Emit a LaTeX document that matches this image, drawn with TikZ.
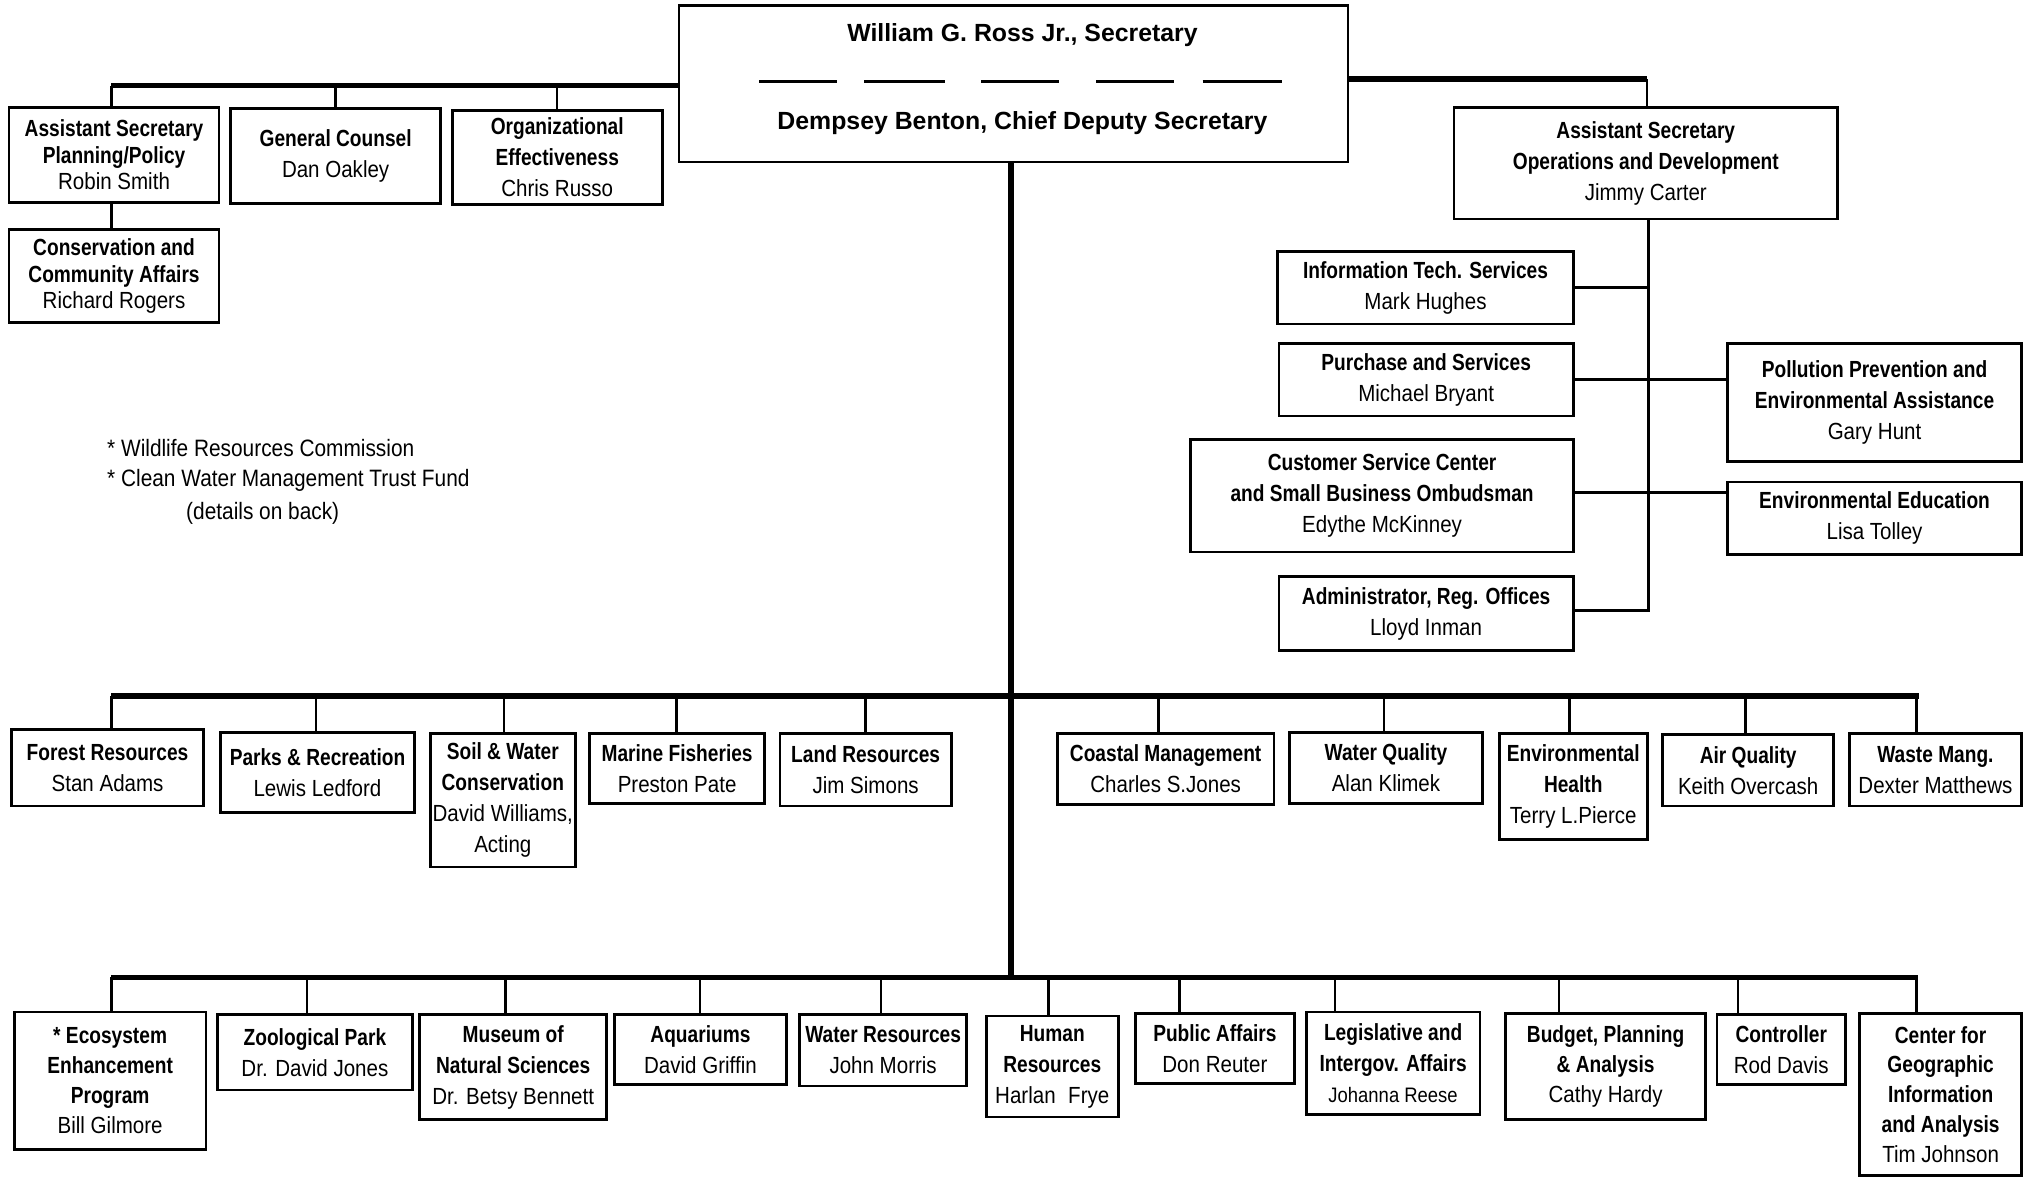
\documentclass[tikz,border=0pt]{standalone}
\usepackage{fontspec}
\setmainfont{Liberation Sans}
\newfontfamily\rg{Liberation Sans}[FakeStretch=0.88]
\newfontfamily\hd{Liberation Sans}[FakeStretch=0.82]
\newfontfamily\ttl{Liberation Sans}
\newcommand\hb[1]{{\hd\bfseries #1}}
\newcommand\orgbx[7][]{%
  \pgfmathsetmacro\cxx{(#3+#5)/2}%
  \pgfmathsetmacro\cyy{(#4+#6)/2}%
  \pgfmathsetmacro\www{(#5-#3)/100}%
  \pgfmathsetmacro\hhh{(#6-#4)/100}%
  \node[ob,minimum width=\www cm,minimum height=\hhh cm,#1] (#2) at (\cxx,\cyy) {#7};}
\newcommand\dropto[3]{% node, x, bus y
  \coordinate (d-#1) at (#2,#3);
  \draw[conn] (d-#1) -- (d-#1 |- #1.north);}
\tikzset{
  ob/.style={draw, line width=0.6pt, fill=white, inner sep=0pt, align=center,
    font=\rg\fontsize{5.12}{6.8}\selectfont},
  tight/.style={font=\rg\fontsize{5.12}{5.85}\selectfont},
  conn/.style={line width=0.55pt},
  bus/.style={line width=1.15pt},
  trunk/.style={line width=1.25pt},
  note/.style={anchor=west, inner sep=0pt, font=\rg\fontsize{5.2}{6.5}\selectfont},
  title/.style={inner sep=0pt, font=\ttl\bfseries\fontsize{5.45}{6.5}\selectfont},
}
\begin{document}
\begin{tikzpicture}[x=0.01cm,y=-0.01cm]
\useasboundingbox (0,0) rectangle (1568,908);
\fill[white] (0,0) rectangle (1568,908);

% ---------- connectors (behind boxes) ----------
\coordinate (tlb) at (86,66);
\coordinate (trb) at (1271,61);
\coordinate (mbL) at (86,537);
\coordinate (mbR) at (1481,537);
\coordinate (bbL) at (86,754);
\coordinate (bbR) at (1480,754);

% ---------- top boxes ----------
\orgbx{sec}{524}{4}{1040}{125}{}
\node[title] (t1) at (789,27) {William G. Ross Jr., Secretary};
\node[title] (t2) at (789,95) {Dempsey Benton, Chief Deputy Secretary};
\foreach \a/\b in {586/646,667/729,757/817,846/906,928/989}
  \draw[line width=0.6pt] (\a,63) -- (\b,63);

\draw[bus] (tlb) -- (tlb -| sec.west);
\draw[bus] (sec.east |- trb) -- (trb);
\draw[trunk] (sec.south -| 780,0) -- (bbL -| 780,0);
\draw[bus] (mbL) -- (mbR);
\draw[bus] (bbL) -- (bbR);

\orgbx[tight]{plan}{7}{83}{169}{156}{\hb{Assistant Secretary}\\\hb{Planning/Policy}\\Robin Smith}
\orgbx[tight]{cons}{7}{177}{169}{249}{\hb{Conservation and}\\\hb{Community Affairs}\\Richard Rogers}
\orgbx{gc}{178}{84}{340}{157}{\hb{General Counsel}\\Dan Oakley}
\orgbx{oe}{349}{85}{511}{158}{\hb{Organizational}\\\hb{Effectiveness}\\Chris Russo}
\draw[conn] (tlb) -- (tlb |- plan.north);
\draw[conn] (gc.north |- tlb) -- (gc.north);
\draw[conn] (oe.north |- tlb) -- (oe.north);
\draw[conn] (plan.south -| tlb) -- (cons.north -| tlb);

\orgbx{ops}{1122}{83}{1418}{169}{\hb{Assistant Secretary}\\\hb{Operations and Development}\\Jimmy Carter}
\orgbx{its}{986}{194}{1214}{250}{\hb{Information Tech. Services}\\Mark Hughes}
\orgbx{pur}{987}{265}{1214}{321}{\hb{Purchase and Services}\\Michael Bryant}
\orgbx{pol}{1333}{265}{1560}{356}{\hb{Pollution Prevention and}\\\hb{Environmental Assistance}\\Gary Hunt}
\orgbx{csc}{919}{339}{1214}{426}{\hb{Customer Service Center}\\\hb{and Small Business Ombudsman}\\Edythe McKinney}
\orgbx{ee}{1333}{372}{1560}{428}{\hb{Environmental Education}\\Lisa Tolley}
\orgbx{adm}{987}{445}{1214}{502}{\hb{Administrator, Reg. Offices}\\Lloyd Inman}

\coordinate (ot) at (1272,471);
\draw[conn] (trb) -- (trb |- ops.north);
\draw[conn] (ops.south -| ot) -- (ot) -- (ot -| adm.east);
\draw[conn] (its.east) -- (its.east -| ot);
\draw[conn] (pur.east) -- (pur.east -| pol.west);
\draw[conn] (csc.east |- 0,380) -- (ee.west |- 0,380);

% ---------- footnote ----------
\node[note] (n1) at (82,346) {* Wildlife Resources Commission};
\node[note] (n2) at (82,371) {* Clean Water Management Trust Fund};
\node[note] (n3) at (143,396) {(details on back)};

% ---------- middle row ----------
\orgbx{forest}{9}{563}{157}{622}{\hb{Forest Resources}\\Stan Adams}
\orgbx{parks}{170}{565}{320}{627}{\hb{Parks \& Recreation}\\Lewis Ledford}
\orgbx{soil}{332}{566}{444}{669}{\hb{Soil \& Water}\\\hb{Conservation}\\David Williams,\\Acting}
\orgbx{marine}{455}{566}{590}{620}{\hb{Marine Fisheries}\\Preston Pate}
\orgbx{land}{602}{566}{734}{622}{\hb{Land Resources}\\Jim Simons}
\orgbx{coastal}{816}{566}{983}{621}{\hb{Coastal Management}\\Charles S.Jones}
\orgbx{wq}{995}{565}{1144}{620}{\hb{Water Quality}\\Alan Klimek}
\orgbx{eh}{1157}{566}{1271}{648}{\hb{Environmental}\\\hb{Health}\\Terry L.Pierce}
\orgbx{aq}{1283}{567}{1415}{622}{\hb{Air Quality}\\Keith Overcash}
\orgbx{waste}{1427}{566}{1560}{622}{\hb{Waste Mang.}\\Dexter Matthews}
\dropto{forest}{86}{537}
\dropto{parks}{244}{537}
\dropto{soil}{389}{537}
\dropto{marine}{522}{537}
\dropto{land}{668}{537}
\dropto{coastal}{894}{537}
\dropto{wq}{1068}{537}
\dropto{eh}{1211}{537}
\dropto{aq}{1347}{537}
\dropto{waste}{1479}{537}

% ---------- bottom row ----------
\orgbx[font=\rg\fontsize{5.12}{6.6}\selectfont]{eco}{11}{781}{159}{887}{\hb{* Ecosystem}\\\hb{Enhancement}\\\hb{Program}\\Bill Gilmore}
\orgbx{zoo}{168}{783}{318}{841}{\hb{Zoological Park}\\Dr. David Jones}
\orgbx{mus}{324}{783}{468}{864}{\hb{Museum of}\\\hb{Natural Sciences}\\Dr. Betsy Bennett}
\orgbx{aqua}{474}{783}{607}{837}{\hb{Aquariums}\\David Griffin}
\orgbx{wr}{617}{783}{746}{838}{\hb{Water Resources}\\John Morris}
\orgbx{hr}{761}{784}{863}{862}{\hb{Human}\\\hb{Resources}\\Harlan\hspace{1.5pt} Frye}
\orgbx{pa}{876}{782}{999}{836}{\hb{Public Affairs}\\Don Reuter}
\orgbx{leg}{1008}{781}{1142}{860}{\hb{Legislative and}\\\hb{Intergov. Affairs}\\{\fontsize{4.6}{6.8}\selectfont Johanna Reese}}
\orgbx[font=\rg\fontsize{5.12}{6.6}\selectfont]{bud}{1162}{782}{1316}{864}{\hb{Budget, Planning}\\\hb{\& Analysis}\\Cathy Hardy}
\orgbx{ctl}{1325}{783}{1424}{837}{\hb{Controller}\\Rod Davis}
\orgbx[font=\rg\fontsize{5.12}{6.55}\selectfont]{cgi}{1435}{782}{1560}{907}{\hb{Center for}\\\hb{Geographic}\\\hb{Information}\\\hb{and Analysis}\\Tim Johnson}
\dropto{eco}{86}{754}
\dropto{zoo}{237}{754}
\dropto{mus}{390}{754}
\dropto{aqua}{540}{754}
\dropto{wr}{680}{754}
\dropto{hr}{809}{754}
\dropto{pa}{910}{754}
\dropto{leg}{1030}{754}
\dropto{bud}{1203}{754}
\dropto{ctl}{1341}{754}
\dropto{cgi}{1479}{754}
\end{tikzpicture}
\end{document}
